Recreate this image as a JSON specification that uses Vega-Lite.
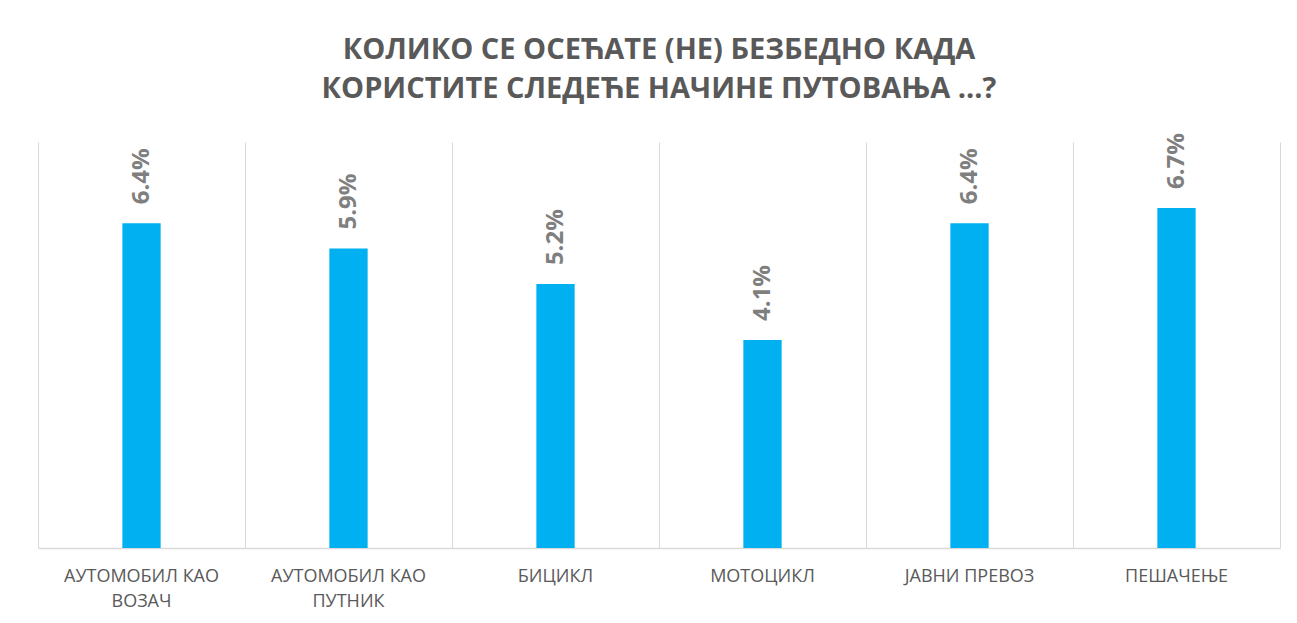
{
  "$schema": "https://vega.github.io/schema/vega-lite/v6.json",
  "width": 1242,
  "height": 406,
  "autosize": {"type": "none"},
  "padding": {"left": 38, "top": 142, "right": 17, "bottom": 75},
  "background": "#ffffff",
  "title": {
    "text": ["КОЛИКО СЕ ОСЕЋАТЕ (НЕ) БЕЗБЕДНО КАДА", "КОРИСТИТЕ СЛЕДЕЋЕ НАЧИНЕ ПУТОВАЊА ...?"],
    "font": "Open Sans",
    "fontSize": 29,
    "fontWeight": "bold",
    "color": "#595959",
    "anchor": "middle",
    "lineHeight": 39,
    "offset": 29
  },
  "data": {
    "values": [
      {"mode": "АУТОМОБИЛ КАО\nВОЗАЧ", "value": 6.4, "label": "6.4%"},
      {"mode": "АУТОМОБИЛ КАО\nПУТНИК", "value": 5.9, "label": "5.9%"},
      {"mode": "БИЦИКЛ", "value": 5.2, "label": "5.2%"},
      {"mode": "МОТОЦИКЛ", "value": 4.1, "label": "4.1%"},
      {"mode": "ЈАВНИ ПРЕВОЗ", "value": 6.4, "label": "6.4%"},
      {"mode": "ПЕШАЧЕЊЕ", "value": 6.7, "label": "6.7%"}
    ]
  },
  "encoding": {
    "x": {
      "field": "mode",
      "type": "nominal",
      "sort": null,
      "scale": {"paddingInner": 0, "paddingOuter": 0},
      "axis": {
        "title": null,
        "labels": false,
        "ticks": false,
        "grid": true,
        "tickBand": "extent",
        "gridColor": "#d9d9d9",
        "gridWidth": 1,
        "domainColor": "#d9d9d9",
        "domainWidth": 1.5
      }
    },
    "y": {
      "field": "value",
      "type": "quantitative",
      "scale": {"domain": [0, 8]},
      "axis": null
    }
  },
  "layer": [
    {
      "mark": {"type": "bar", "color": "#00B0F0", "width": {"band": 0.185}}
    },
    {
      "mark": {
        "type": "text",
        "angle": 270,
        "align": "left",
        "baseline": "middle",
        "dx": 19,
        "font": "Open Sans",
        "fontSize": 24,
        "fontWeight": "bold",
        "color": "#7F7F7F"
      },
      "encoding": {"text": {"field": "label"}}
    },
    {
      "mark": {
        "type": "text",
        "align": "center",
        "baseline": "top",
        "dy": 20,
        "font": "Open Sans",
        "fontSize": 18,
        "lineBreak": "\n",
        "lineHeight": 25,
        "color": "#595959"
      },
      "encoding": {
        "y": {"datum": 0},
        "text": {"field": "mode"}
      }
    }
  ],
  "config": {"view": {"stroke": null}}
}
